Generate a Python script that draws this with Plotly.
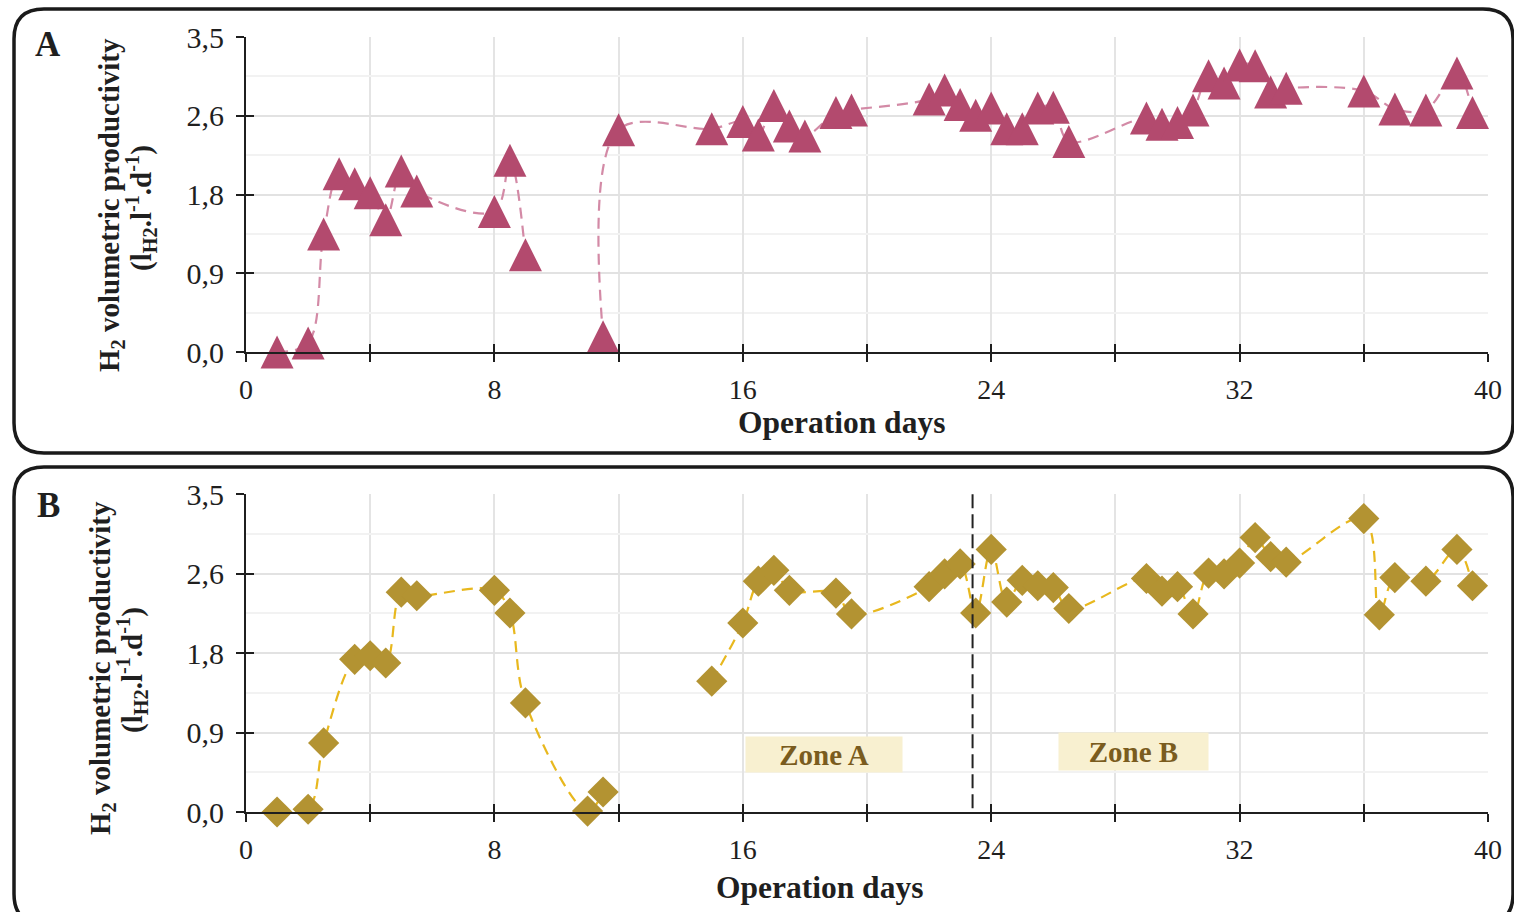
import plotly.graph_objects as go

W, H = 1514, 912

# ---------------- data ----------------
days_a = [1, 2, 2.5, 3, 3.5, 4, 4.5, 5, 5.5, 8, 8.5, 9, 10, 11.5, 12, 15, 16, 16.5, 17, 17.5, 18,
          19, 19.5, 22, 22.5, 23, 23.5, 24, 24.5, 25, 25.5, 26, 26.5, 29, 29.5, 30, 30.5, 31,
          31.5, 32, 32.5, 33, 33.5, 36, 37, 38, 39, 39.5]
prod_a = [0.00, 0.10, 1.31, 1.98, 1.87, 1.77, 1.47, 2.01, 1.79, 1.56, 2.13, 1.08, None, 0.17, 2.47,
          2.48, 2.56, 2.41, 2.74, 2.51, 2.40, 2.66, 2.69, 2.81, 2.91, 2.75, 2.63, 2.71, 2.48, 2.48,
          2.71, 2.72, 2.34, 2.60, 2.53, 2.55, 2.69, 3.07, 2.99, 3.19, 3.18, 2.89, 2.93, 2.90, 2.70,
          2.69, 3.10, 2.66]

days_b = [1, 2, 2.5, 3.5, 4, 4.5, 5, 5.5, 8, 8.5, 9, 11, 11.5, 13, 15, 16, 16.5, 17, 17.5, 19,
          19.5, 22, 22.5, 23, 23.5, 24, 24.5, 25, 25.5, 26, 26.5, 29, 29.5, 30, 30.5, 31, 31.5, 32,
          32.5, 33, 33.5, 36, 36.5, 37, 38, 39, 39.5]
prod_b = [0.00, 0.03, 0.76, 1.68, 1.72, 1.64, 2.42, 2.38, 2.44, 2.19, 1.20, 0.01, 0.22, None, 1.44,
          2.08, 2.54, 2.66, 2.44, 2.41, 2.18, 2.48, 2.62, 2.73, 2.19, 2.89, 2.31, 2.55, 2.49, 2.47,
          2.24, 2.57, 2.43, 2.48, 2.18, 2.63, 2.62, 2.74, 3.02, 2.81, 2.75, 3.23, 2.17, 2.58, 2.54,
          2.89, 2.49]

x_label_vals = [0, 8, 16, 24, 32, 40]
x_label_text = ["0", "8", "16", "24", "32", "40"]
x_tick_step = 4
y_tickvals = [0, 0.875, 1.75, 2.625, 3.5]
y_ticktext = ["0,0", "0,9", "1,8", "2,6", "3,5"]
zone_boundary_day = 23.4

# ---------------- geometry helpers ----------------
def px(x):
    return x / W

def py(y):
    return 1 - y / H

FONT = "Liberation Serif"
TXT = "#1f1f1f"
X_DOM = [px(246), px(1488)]
YA_DOM = [py(352), py(37)]
YB_DOM = [py(812), py(494)]
YMAX = 3.5
XMAX = 40

TRI_SIZE = 33
# arrow-up symbol has its apex at the data point; an overlay axis shifted by half the
# marker height centres the marker box on the value
ppu_a = (YA_DOM[1] - YA_DOM[0]) * H / YMAX
d_a = (TRI_SIZE / 2) / ppu_a

PINK = "#b34a6e"
PINK_LINE = "#d38aa6"
GOLD = "#b39332"
GOLD_LINE = "#e8b81e"

fig = go.Figure()

# Panel A
fig.add_trace(go.Scatter(x=days_a, y=prod_a, mode="lines", xaxis="x", yaxis="y",
                         line=dict(color=PINK_LINE, width=2.2, dash="11px,7px", shape="spline", smoothing=1),
                         connectgaps=False, showlegend=False, hoverinfo="skip"))
fig.add_trace(go.Scatter(x=days_a, y=prod_a, mode="markers", xaxis="x", yaxis="y5",
                         marker=dict(symbol="arrow-up", size=TRI_SIZE, color=PINK, line=dict(width=0)),
                         cliponaxis=False, showlegend=False))
fig.add_trace(go.Scatter(x=[None], y=[None], xaxis="x3", yaxis="y", showlegend=False))
fig.add_trace(go.Scatter(x=[None], y=[None], xaxis="x", yaxis="y3", showlegend=False))

# Panel B
fig.add_trace(go.Scatter(x=days_b, y=prod_b, mode="lines", xaxis="x2", yaxis="y2",
                         line=dict(color=GOLD_LINE, width=2.2, dash="11px,7px", shape="spline", smoothing=1),
                         connectgaps=False, showlegend=False, hoverinfo="skip"))
fig.add_trace(go.Scatter(x=days_b, y=prod_b, mode="markers", xaxis="x2", yaxis="y2",
                         marker=dict(symbol="diamond", size=24, color=GOLD, line=dict(width=0)),
                         cliponaxis=False, showlegend=False))
fig.add_trace(go.Scatter(x=[None], y=[None], xaxis="x4", yaxis="y2", showlegend=False))
fig.add_trace(go.Scatter(x=[None], y=[None], xaxis="x2", yaxis="y4", showlegend=False))

def xaxis_main(anchor):
    return dict(domain=X_DOM, anchor=anchor, range=[0, XMAX], tickmode="array",
                tickvals=x_label_vals, ticktext=x_label_text, ticks="outside", ticklen=8,
                tickwidth=2, tickcolor=TXT, showline=True, linecolor=TXT, linewidth=2,
                showgrid=True, gridcolor="#e4e4e4", gridwidth=1.5, zeroline=False,
                minor=dict(dtick=x_tick_step, tick0=0, ticks="outside", ticklen=8, tickwidth=2,
                           tickcolor=TXT, showgrid=True, gridcolor="#e4e4e4", gridwidth=1.5),
                tickfont=dict(family=FONT, size=28, color=TXT), ticklabelstandoff=3,
                automargin=False, fixedrange=True)

def yaxis_main(anchor, dom):
    return dict(domain=dom, anchor=anchor, range=[0, YMAX], tickmode="array",
                tickvals=y_tickvals, ticktext=y_ticktext, ticks="outside", ticklen=8,
                tickwidth=2, tickcolor=TXT, showline=True, linecolor=TXT, linewidth=2,
                showgrid=True, gridcolor="#e2e2e2", gridwidth=1.5, zeroline=False,
                tickfont=dict(family=FONT, size=30, color=TXT), ticklabelstandoff=6,
                minor=dict(dtick=YMAX / 8, tick0=0, showgrid=True, gridcolor="#f2f2f2",
                           gridwidth=1.5, ticks=""),
                automargin=False, fixedrange=True)

def xaxis_in(over, anchor):
    return dict(overlaying=over, anchor=anchor, range=[0, XMAX], tickmode="linear",
                tick0=0, dtick=x_tick_step, ticks="inside", ticklen=8, tickwidth=2, tickcolor=TXT,
                showticklabels=False, showgrid=False, zeroline=False, showline=False,
                automargin=False, fixedrange=True)

def yaxis_in(over, anchor):
    return dict(overlaying=over, anchor=anchor, range=[0, YMAX], tickmode="array",
                tickvals=y_tickvals, ticks="inside", ticklen=8, tickwidth=2, tickcolor=TXT,
                showticklabels=False, showgrid=False, zeroline=False, showline=False,
                automargin=False, fixedrange=True)

# rounded panel frames
def rounded_rect(x0, y0, x1, y1, r):
    def P(x, y):
        return f"{px(x):.5f},{py(y):.5f}"
    path = (f"M {P(x0 + r, y0)} L {P(x1 - r, y0)} Q {P(x1, y0)} {P(x1, y0 + r)} "
            f"L {P(x1, y1 - r)} Q {P(x1, y1)} {P(x1 - r, y1)} "
            f"L {P(x0 + r, y1)} Q {P(x0, y1)} {P(x0, y1 - r)} "
            f"L {P(x0, y0 + r)} Q {P(x0, y0)} {P(x0 + r, y0)} Z")
    return dict(type="path", path=path, xref="paper", yref="paper",
                line=dict(color="#1a1a1a", width=3.5), layer="below")

shapes = [
    rounded_rect(14, 9, 1513, 453, 30),
    rounded_rect(14, 467, 1513, 924, 30),
    dict(type="line", xref="x2", yref="y2 domain", x0=zone_boundary_day, x1=zone_boundary_day,
         y0=0.012, y1=1.005, line=dict(color="#222222", width=2, dash="14px,6px")),
]

def ann(text, x, y, size, bold=True, angle=0, **kw):
    t = f"<b>{text}</b>" if bold else text
    d = dict(text=t, x=px(x), y=py(y), xref="paper", yref="paper", showarrow=False,
             textangle=angle, xanchor="center", yanchor="middle",
             font=dict(family=FONT, size=size, color=TXT))
    d.update(kw)
    return d

title1 = "H<sub>2</sub> volumetric productivity"
title2 = "(l<sub>H2</sub>.l<sup>-1</sup>.d<sup>-1</sup>)"

annotations = [
    ann("A", 48, 45, 35),
    ann("B", 48, 505, 35),
    ann(title1, 111, 205, 29, angle=-90),
    ann(title2, 141, 208, 29, angle=-90),
    ann(title1, 102, 668, 29, angle=-90),
    ann(title2, 132, 670, 29, angle=-90),
    ann("Operation days", 841, 422, 31.5),
    ann("Operation days", 820, 887, 31.5),
    dict(text="<b>Zone A</b>", x=px(824), y=py(754.5), xref="paper", yref="paper",
         showarrow=False, width=156, height=35, bgcolor="#f8f0d0", borderpad=0,
         font=dict(family=FONT, size=29, color="#7a5c1e"), xanchor="center", yanchor="middle"),
    dict(text="<b>Zone B</b>", x=px(1133.5), y=py(751.5), xref="paper", yref="paper",
         showarrow=False, width=149, height=37, bgcolor="#f8f0d0", borderpad=0,
         font=dict(family=FONT, size=29, color="#7a5c1e"), xanchor="center", yanchor="middle"),
]

fig.update_layout(
    width=W, height=H, margin=dict(l=0, r=0, t=0, b=0, autoexpand=False),
    paper_bgcolor="white", plot_bgcolor="white", showlegend=False,
    font=dict(family=FONT, color=TXT),
    xaxis=xaxis_main("y"),
    yaxis=yaxis_main("x", YA_DOM),
    xaxis2=xaxis_main("y2"),
    yaxis2=yaxis_main("x2", YB_DOM),
    xaxis3=xaxis_in("x", "y"),
    yaxis3=yaxis_in("y", "x"),
    xaxis4=xaxis_in("x2", "y2"),
    yaxis4=yaxis_in("y2", "x2"),
    yaxis5=dict(overlaying="y", anchor="x", range=[-d_a, YMAX - d_a], visible=False,
                showgrid=False, zeroline=False, automargin=False, fixedrange=True),
    shapes=shapes,
    annotations=annotations,
)

fig.write_html("out.html")
